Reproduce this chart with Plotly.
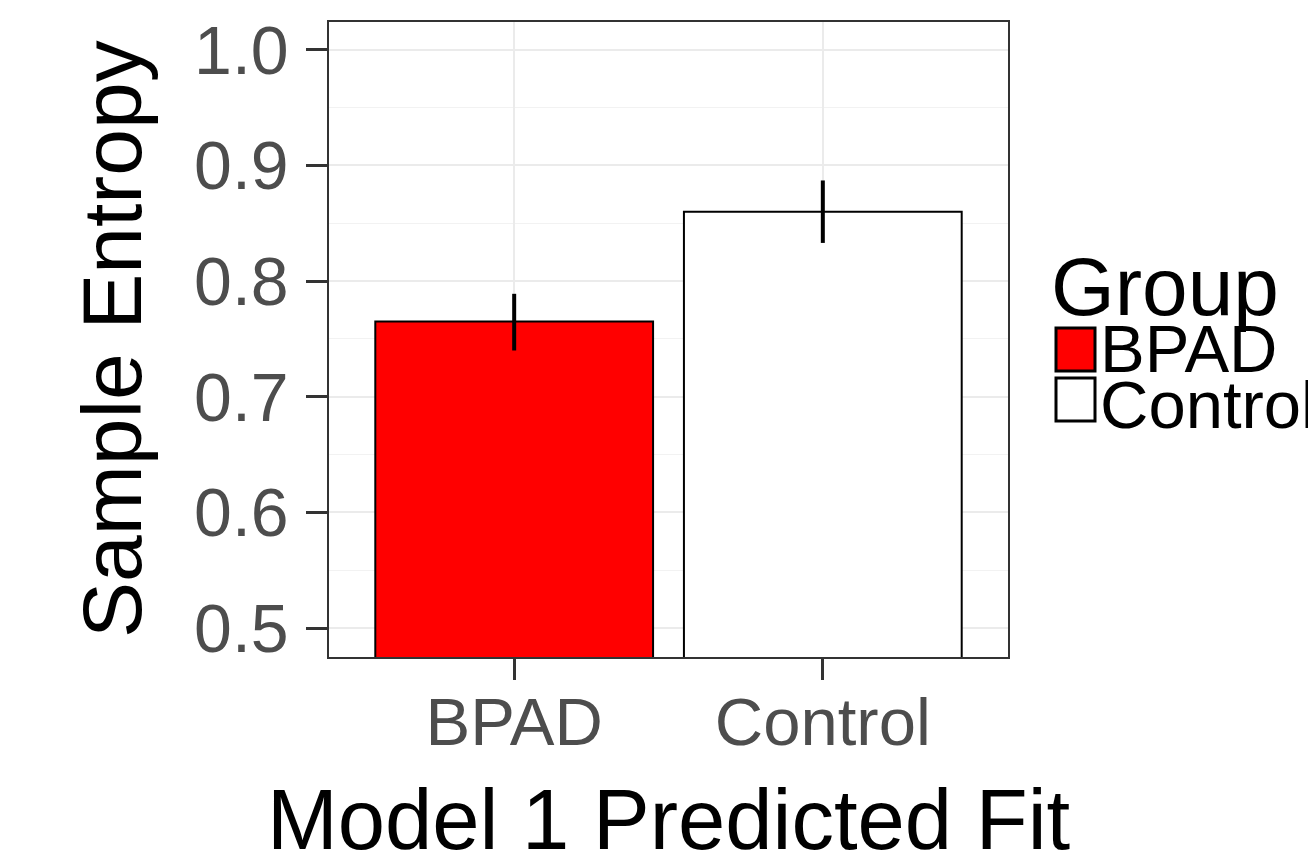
import plotly.graph_objects as go

groups = ["BPAD", "Control"]
entropy = [0.765, 0.860]
err_low = [0.740, 0.833]
err_high = [0.789, 0.887]
bar_colors = ["#FF0000", "#FFFFFF"]
y_ticks = [0.5, 0.6, 0.7, 0.8, 0.9, 1.0]
y_tick_labels = ["0.5", "0.6", "0.7", "0.8", "0.9", "1.0"]
y_minor = [0.55, 0.65, 0.75, 0.85, 0.95]

FONT = "Liberation Sans, Arial, sans-serif"
L, R, T, B = 329, 1008, 22, 657   # plot-area pixel box
W, H = 1308, 863

def px(x):
    return (x - L) / (R - L)

def py(y):
    return 1 - (y - T) / (B - T)

fig = go.Figure()
fig.add_trace(go.Bar(
    x=groups, y=entropy, width=0.9,
    marker=dict(color=bar_colors, line=dict(color="black", width=2)),
    showlegend=False, hoverinfo="skip",
))
for g, lo, hi in zip(groups, err_low, err_high):
    fig.add_trace(go.Scatter(
        x=[g, g], y=[lo, hi], mode="lines",
        line=dict(color="black", width=4),
        showlegend=False, hoverinfo="skip",
    ))

fig.update_layout(
    width=W, height=H,
    margin=dict(l=L, r=W - R, t=T, b=H - B, autoexpand=False),
    paper_bgcolor="white", plot_bgcolor="white",
    font=dict(family=FONT),
    bargap=0.1,
)
fig.update_xaxes(
    range=[-0.6, 1.6], type="category", automargin=False,
    showgrid=True, gridcolor="#EBEBEB", gridwidth=1.5,
    showline=True, mirror=True, linecolor="#333333", linewidth=1.5,
    ticks="outside", ticklen=21, tickwidth=2.5, tickcolor="#333333",
    tickfont=dict(size=67, color="#4D4D4D", family=FONT),
    ticklabelstandoff=-15,
    zeroline=False,
)
fig.update_yaxes(
    range=[0.475, 1.024], automargin=False,
    tickvals=y_ticks, ticktext=y_tick_labels,
    showgrid=True, gridcolor="#EBEBEB", gridwidth=1.5,
    minor=dict(tickvals=y_minor, showgrid=True, gridcolor="#F2F2F2", gridwidth=1, ticks=""),
    showline=True, mirror=True, linecolor="#333333", linewidth=1.5,
    ticks="outside", ticklen=21, tickwidth=2.5, tickcolor="#333333",
    tickfont=dict(size=68, color="#4D4D4D", family=FONT),
    ticklabelstandoff=4,
    zeroline=False,
)

# Axis titles
fig.add_annotation(text="Model 1 Predicted Fit", xref="paper", yref="paper",
                   x=0.5, y=py(820), xanchor="center", yanchor="middle",
                   showarrow=False, font=dict(size=85, color="black", family=FONT))
fig.add_annotation(text="Sample Entropy", xref="paper", yref="paper",
                   x=px(112), y=py(339), xanchor="center", yanchor="middle",
                   textangle=-90, showarrow=False,
                   font=dict(size=84, color="black", family=FONT))

# Manual legend (ggplot style, tight spacing)
fig.add_annotation(text="Group", xref="paper", yref="paper",
                   x=px(1049), y=py(286), xanchor="left", yanchor="middle",
                   showarrow=False, font=dict(size=82, color="black", family=FONT))
legend_rows = [(groups[0], bar_colors[0], 328, 371, 348), (groups[1], bar_colors[1], 378, 421, 405)]
for name, col, y0, y1, yc in legend_rows:
    fig.add_shape(type="rect", xref="paper", yref="paper",
                  x0=px(1056), x1=px(1095), y0=py(y1), y1=py(y0),
                  fillcolor=col, line=dict(color="black", width=3))
    fig.add_annotation(text=name, xref="paper", yref="paper",
                       x=px(1098), y=py(yc),
                       xanchor="left", yanchor="middle", showarrow=False,
                       font=dict(size=67, color="black", family=FONT))

fig.write_html("out.html")
